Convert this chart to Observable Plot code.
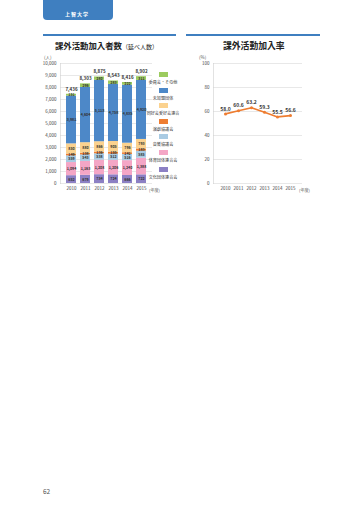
<!DOCTYPE html>
<html><head><meta charset="utf-8">
<script src="https://cdn.jsdelivr.net/npm/d3@7"></script>
<script src="https://cdn.jsdelivr.net/npm/@observablehq/plot@0.6"></script>
<style>
body{margin:0;background:#fff;font-family:"Noto Sans CJK JP","Noto Sans",sans-serif;}
#page{position:relative;width:360px;height:509px;overflow:hidden;}
.abs{position:absolute;}
.leg{position:absolute;left:137px;width:52px;text-align:center;font-size:4.1px;color:#333;}
.leg i{display:block;margin:0 auto 2px auto;width:9px;height:5px;}
</style></head>
<body><div id="page">
<div class="abs" style="left:43px;top:0;width:70px;height:20px;background:#3f7fc0;border-radius:0 0 4px 4px;"></div>
<div class="abs" style="left:65px;top:10px;font-size:5px;color:#fff;font-weight:bold;letter-spacing:1px;">上智大学</div>
<div class="abs" style="left:43px;top:34px;width:133px;height:1.6px;background:#3f7fc0;"></div>
<div class="abs" style="left:186px;top:34px;width:134px;height:1.6px;background:#3f7fc0;"></div>
<div class="abs" style="left:55px;top:39px;font-size:8.4px;font-weight:bold;color:#222;white-space:nowrap;">課外活動加入者数<span style="font-size:6px;font-weight:normal;">（延べ人数）</span></div>
<div class="abs" style="left:223px;top:39px;font-size:8.8px;font-weight:bold;color:#222;white-space:nowrap;">課外活動加入率</div>
<div class="abs" style="left:44px;top:54px;font-size:4.5px;color:#555;">(人)</div>
<div class="abs" style="left:199px;top:54px;font-size:4.5px;color:#555;">(%)</div>
<div id="left" class="abs" style="left:0;top:55px;"></div>
<div id="right" class="abs" style="left:190px;top:55px;"></div>
<div class="abs" style="left:149px;top:186.5px;font-size:4.1px;color:#555;">(年度)</div>
<div class="abs" style="left:299px;top:186.5px;font-size:4.1px;color:#555;">(年度)</div>
<div id="legend"></div>
<div class="abs" style="left:43px;top:486px;font-size:6.5px;color:#555;">62</div>
</div>
<script>
const years = ["2010","2011","2012","2013","2014","2015"];
const cats = ["文化団体連合会","体育団体連合会","音楽協議会","演劇協議会","同好会愛好会連合","未加盟団体","委員会・その他"];
const colors = ["#8c80c4","#f4a6c6","#a9cbe3","#ee7d31","#fbd28f","#4d88c8","#9ccb5f"];
const bunka = [652,679,734,724,666,722];
const taiiku = [1094,1163,1208,1206,1240,1388];
const ongaku = [559,543,538,512,516,585];
const engeki = [149,138,136,155,141,183];
const doukou = [850,880,866,905,796,793];
const mikamei = [3981,4604,5113,4758,4835,4920];
const iinkai = [151,296,280,283,222,311];
const totals = [7436,8303,8875,8543,8416,8902];
const rate = [58.0,60.6,63.2,59.3,55.5,56.6];
const yTicks = [0,1000,2000,3000,4000,5000,6000,7000,8000,9000,10000];
const rTicks = [0,20,40,60,80,100];

const series = [bunka,taiiku,ongaku,engeki,doukou,mikamei,iinkai];
const rows = [];
series.forEach((vals,ci)=>vals.forEach((v,i)=>rows.push({year:years[i],cat:cats[ci],value:v})));
const totalRows = years.map((y,i)=>({year:y,total:totals[i]}));
const rateRows = years.map((y,i)=>({year:y,rate:rate[i]}));
const fmt = d3.format(",");

const left = Plot.plot({
  width:160,height:150,marginLeft:60,marginRight:8,marginTop:8,marginBottom:22,
  style:{fontSize:"4.5px",fontFamily:"Noto Sans CJK JP, sans-serif",color:"#444",background:"transparent"},
  x:{domain:years,padding:0.3,label:null,tickSize:0,tickPadding:3},
  y:{domain:[0,10000],ticks:yTicks,tickFormat:fmt,label:null,tickSize:0,tickPadding:4},
  color:{domain:cats,range:colors},
  marks:[
    Plot.ruleY(yTicks,{stroke:"#d8d8d8",strokeWidth:0.6}),
    Plot.frame({anchor:"left",stroke:"#cfcfcf",strokeWidth:0.6}),
    Plot.barY(rows,{x:"year",y:"value",fill:"cat",order:cats}),
    Plot.text(rows,Plot.stackY({x:"year",y:"value",z:"cat",order:cats,text:d=>fmt(d.value),fill:"#333",fontSize:3.6,fontWeight:600})),
    Plot.text(totalRows,{x:"year",y:"total",text:d=>fmt(d.total),dy:-5,fill:"#333",fontSize:4.5,fontWeight:"bold"})
  ]
});
document.getElementById("left").appendChild(left);

const right = Plot.plot({
  width:130,height:150,marginLeft:23,marginRight:18,marginTop:8,marginBottom:22,
  style:{fontSize:"4.5px",fontFamily:"Noto Sans CJK JP, sans-serif",color:"#444",background:"transparent"},
  x:{type:"point",domain:years,padding:0.72,label:null,tickSize:0,tickPadding:3},
  y:{domain:[0,100],ticks:rTicks,label:null,tickSize:0,tickPadding:4},
  marks:[
    Plot.ruleY(rTicks,{stroke:"#d8d8d8",strokeWidth:0.6}),
    Plot.frame({anchor:"left",stroke:"#cfcfcf",strokeWidth:0.6}),
    Plot.line(rateRows,{x:"year",y:"rate",stroke:"#ee7d31",strokeWidth:1.6}),
    Plot.dot(rateRows,{x:"year",y:"rate",fill:"#ee7d31",r:1.5}),
    Plot.text(rateRows,{x:"year",y:"rate",text:d=>d.rate.toFixed(1),dy:-5,fill:"#333",fontSize:5,fontWeight:"bold"})
  ]
});
document.getElementById("right").appendChild(right);

const legTops = [72,88,103,119,134,150,167];
const legOrder = cats.slice().reverse();
const legColors = colors.slice().reverse();
const lg = document.getElementById("legend");
legOrder.forEach((c,i)=>{
  const d=document.createElement("div");d.className="leg";d.style.top=legTops[i]+"px";
  d.innerHTML=`<i style="background:${legColors[i]}"></i>${c}`;lg.appendChild(d);
});
</script>
</body></html>
